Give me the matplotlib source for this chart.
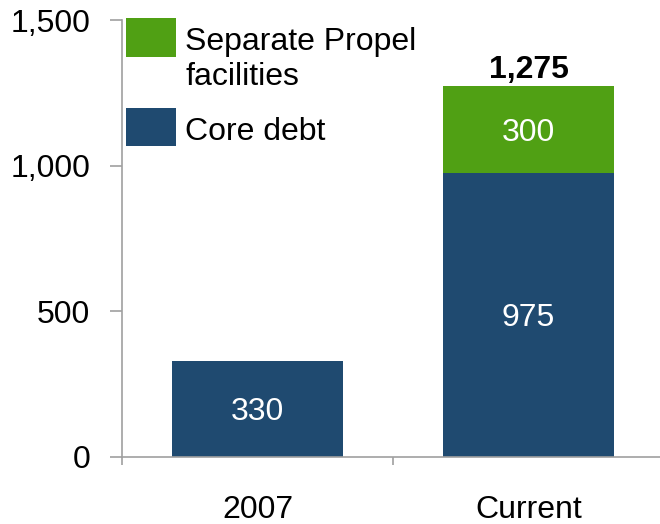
import matplotlib
matplotlib.use("Agg")
import matplotlib.pyplot as plt

plt.rcParams["font.family"] = ["Liberation Sans", "DejaVu Sans"]

categories = ["2007", "Current"]
core_debt = [330, 975]
propel = [0, 300]
totals = [330, 1275]
yticks = [0, 500, 1000, 1500]
ytick_labels = ["0", "500", "1,000", "1,500"]

blue = "#1f4a70"
green = "#50a014"
grey = "#a0a0a0"
fs = 23

fig = plt.figure(figsize=(6.6, 5.24), dpi=100)
ax = fig.add_axes([122 / 660, 67 / 524, 542 / 660, 437 / 524])

x = range(len(categories))
b1 = ax.bar(x, core_debt, width=0.63, color=blue, label="Core debt")
b2 = ax.bar(x, propel, width=0.63, bottom=core_debt, color=green,
            label="Separate Propel\nfacilities")

for i in x:
    ax.text(i, core_debt[i] / 2, f"{core_debt[i]:,}", ha="center", va="center_baseline",
            color="white", fontsize=fs)
    if propel[i] > 0:
        ax.text(i, core_debt[i] + propel[i] / 2, f"{propel[i]:,}", ha="center",
                va="center_baseline", color="white", fontsize=fs)
        ax.text(i, totals[i] + 26, f"{totals[i]:,}", ha="center", va="baseline",
                color="black", fontsize=fs, fontweight="bold")

ax.set_xlim(-0.5, 1.5)
ax.set_ylim(0, 1500)
ax.set_yticks(yticks)
ax.set_yticklabels(ytick_labels)
ax.set_xticks(list(x))
ax.set_xticklabels(categories)
ax.set_xticks([-0.5, 0.5, 1.5], minor=True)

for s in ["top", "right"]:
    ax.spines[s].set_visible(False)
for s in ["left", "bottom"]:
    ax.spines[s].set_color(grey)
    ax.spines[s].set_linewidth(1.2)

ax.tick_params(axis="y", length=9, width=1.2, color=grey, labelsize=fs, pad=14)
ax.tick_params(axis="x", which="major", length=0, labelsize=fs, pad=27)
ax.tick_params(axis="x", which="minor", length=6, width=1.2, color=grey)

leg = ax.legend(handles=[b2, b1], loc="upper left", bbox_to_anchor=(126 / 660, 1 - 18 / 524),
                bbox_transform=fig.transFigure, frameon=False, fontsize=fs,
                handlelength=1.56, handleheight=1.5, handletextpad=0.3,
                borderpad=0, borderaxespad=0, labelspacing=0.78)
# put the swatch next to the first line of a two-line label
for col in leg._legend_handle_box.get_children():
    for row in col.get_children():
        row.align = "top"
for t in leg.get_texts():
    t.set_y(-9)

fig.savefig("out.png", dpi=100)
